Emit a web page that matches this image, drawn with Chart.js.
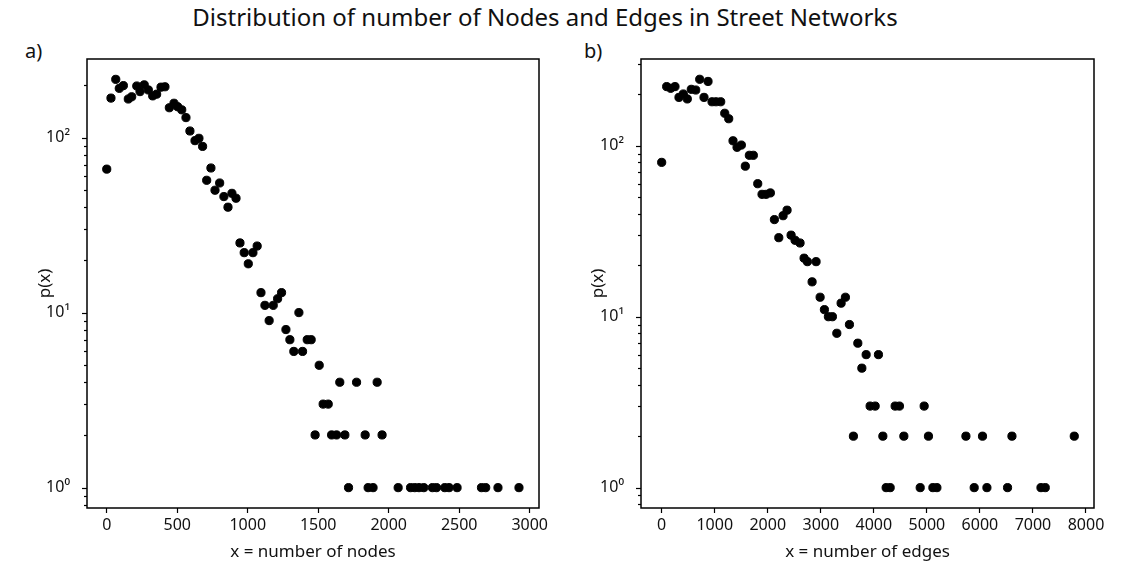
<!DOCTYPE html>
<html><head><meta charset="utf-8">
<script src="https://cdn.jsdelivr.net/npm/chart.js@4.4.1/dist/chart.umd.min.js"></script>
<style>
html,body{margin:0;padding:0;background:#fff;}
#wrap{position:relative;width:1148px;height:565px;overflow:hidden;background:#fff;font-family:'Noto Sans',sans-serif;color:#111;}
canvas{position:absolute;top:0;}
#title{position:absolute;top:0px;left:0;width:1090px;text-align:center;font-size:24px;white-space:nowrap;}
.lab{position:absolute;font-size:20px;}
</style></head><body>
<div id="wrap">
<div id="title">Distribution of number of Nodes and Edges in Street Networks</div>
<div class="lab" style="left:25px;top:37px">a)</div>
<div class="lab" style="left:584px;top:37px">b)</div>
<canvas id="c1" style="left:0;width:574px;height:565px" width="574" height="565"></canvas>
<canvas id="c2" style="left:574px;width:574px;height:565px" width="574" height="565"></canvas>
</div>
<script>
// ---- data ----
const nodesX = [0,30,64,89,118,153,177,213,236,266,295,326,354,385,413,444,477,503,532,562,590,626,654,680,709,739,768,801,831,860,888,917,945,975,1004,1037,1067,1094,1122,1152,1181,1212,1240,1271,1299,1327,1363,1389,1422,1450,1478,1507,1535,1571,1595,1630,1653,1689,1715,1772,1833,1854,1889,1918,1953,2067,2155,2185,2215,2249,2310,2339,2398,2428,2485,2658,2688,2775,2924];
const nodesP = [66,168,215,191,198,166,171,197,183,200,187,173,177,194,195,148,157,150,144,130,109,96,99,89,57,67,50,55,46,40,48,45,25,22,19,22,24,13,11,9,11,12,13,8,7,6,10,6,7,7,2,5,3,3,2,2,4,2,1,4,2,1,1,4,2,1,1,1,1,1,1,1,1,1,1,1,1,1,1];
const edgesX = [0,94,170,251,326,408,483,558,642,717,798,874,949,1025,1113,1189,1264,1345,1421,1502,1577,1653,1728,1811,1892,1968,2049,2125,2208,2289,2364,2440,2515,2609,2685,2747,2836,2911,2987,3068,3143,3219,3302,3383,3464,3540,3615,3698,3774,3855,3930,4025,4087,4170,4232,4308,4402,4483,4566,4874,4949,5030,5113,5189,5736,5892,6049,6132,6521,6604,7151,7232,7779];
const edgesP = [80,222,217,222,192,201,188,214,212,245,192,238,181,181,181,155,144,107,98,101,76,88,88,60,52,52,53,37,29,39,42,30,28,27,22,21,16,21,13,11,10,10,8,12,13,9,2,7,5,6,3,3,6,2,1,1,3,3,2,1,3,2,1,1,2,1,2,1,1,2,1,1,2];
const nodesTicks = [0,500,1000,1500,2000,2500,3000];
const edgesTicks = [0,1000,2000,3000,4000,5000,6000,7000,8000];
const yTickValues = [1,10,100];
const yTickLabels = ['10\u2070','10\u00B9','10\u00B2'];
const yMinorValues = [0.8,0.9,1,2,3,4,5,6,7,8,9,10,20,30,40,50,60,70,80,90,100,200,300];
const xTitles = ['x = number of nodes','x = number of edges'];
const yTitle = 'p(x)';

const FAM = "'Noto Sans', 'DejaVu Sans', sans-serif";

const framePlugin = {
  id: 'frame',
  afterDraw(chart) {
    const {ctx, chartArea: a} = chart;
    const ys = chart.scales.y;
    ctx.save();
    ctx.strokeStyle = '#000';
    ctx.lineWidth = 1.2;
    ys.ticks.forEach(t => {
      const py = Math.round(ys.getPixelForValue(t.value)) + 0.5;
      const len = t.major ? 5 : 3;
      ctx.beginPath(); ctx.moveTo(a.left - len, py); ctx.lineTo(a.left, py); ctx.stroke();
    });
    ctx.lineWidth = 1.5;
    ctx.strokeRect(a.left, a.top, a.right - a.left, a.bottom - a.top);
    ctx.restore();
  }
};

function makeChart(id, xs, ps, xTicks, xMin, xMax, yMin, yMax, xTitle, yAxisW, yTitlePad, padRight) {
  const pts = xs.map((x, i) => ({x: x, y: ps[i]}));
  return new Chart(document.getElementById(id), {
    type: 'scatter',
    data: { datasets: [{ data: pts, backgroundColor: '#000', borderColor: '#000', borderWidth: 1, pointRadius: 4.1 }] },
    options: {
      responsive: false, animation: false, events: [],
      layout: { padding: { left: 0, right: padRight, top: 59, bottom: 0 } },
      plugins: { legend: { display: false }, tooltip: { enabled: false } },
      scales: {
        x: {
          type: 'linear', min: xMin, max: xMax,
          afterBuildTicks: s => { s.ticks = xTicks.map(v => ({value: v})); },
          afterFit: s => { s.height = 57; },
          grid: { display: true, drawOnChartArea: false, drawTicks: true, tickLength: 5, tickColor: '#000', tickWidth: 1.2 },
          border: { display: false },
          ticks: { color: '#111', font: { family: FAM, size: 16 }, padding: 3, maxRotation: 0, autoSkip: false, callback: v => String(v) },
          title: { display: true, text: xTitle, color: '#111', font: { family: FAM, size: 17 }, padding: { top: 0, bottom: 3 } }
        },
        y: {
          type: 'logarithmic', min: yMin, max: yMax,
          afterBuildTicks: s => { s.ticks = yMinorValues.filter(v => v >= yMin && v <= yMax).map(v => ({value: v, major: yTickValues.includes(v)})); },
          afterFit: s => { s.width = yAxisW; },
          grid: { display: false },
          border: { display: false },
          ticks: { color: '#111', font: { family: FAM, size: 16 }, padding: 9, autoSkip: false,
            callback: v => { const i = yTickValues.indexOf(v); return i >= 0 ? yTickLabels[i] : ''; } },
          title: { display: true, text: yTitle, color: '#111', font: { family: FAM, size: 17 }, padding: { top: yTitlePad, bottom: 0 } }
        }
      }
    },
    plugins: [framePlugin]
  });
}

makeChart('c1', nodesX, nodesP, nodesTicks, -140, 3066, 0.765, 281, xTitles[0], 87, 35, 35);
makeChart('c2', edgesX, edgesP, edgesTicks, -390, 8151, 0.76, 322, xTitles[1], 67, 14, 54);
</script>
</body></html>
